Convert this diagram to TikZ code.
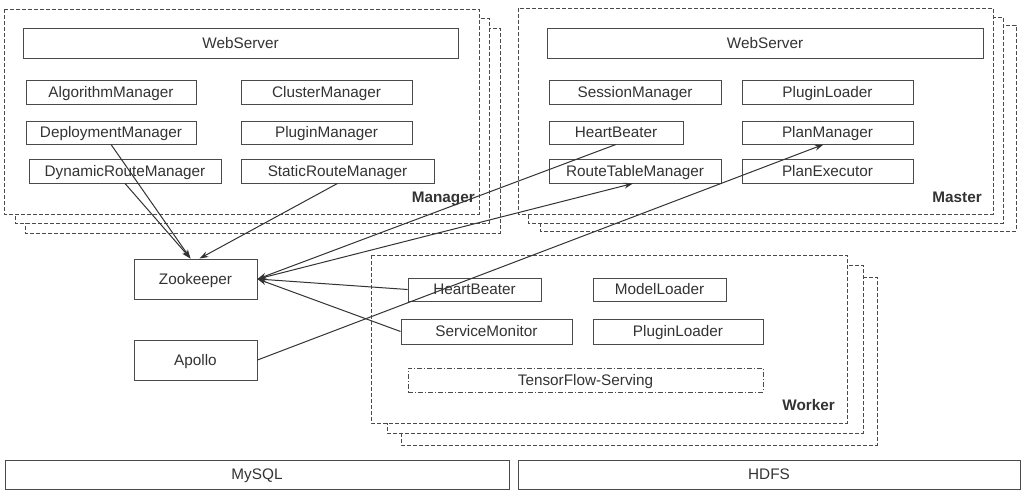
\documentclass[tikz,border=0pt]{standalone}
\usepackage{fontspec}
\setmainfont{Liberation Sans}
\usetikzlibrary{arrows.meta}
\definecolor{ln}{HTML}{333333}
\definecolor{bx}{HTML}{4A4A4A}
\tikzset{
  comp/.style={draw=bx, line width=0.9pt, fill=white, text=ln, inner sep=0pt, text height=10.5pt, text depth=0pt, font=\fontsize{15.3}{17}\selectfont},
  frame/.style={draw=bx, line width=0.9pt, fill=white, dash pattern=on 4pt off 2pt},
  tfs/.style={draw=bx, line width=0.9pt, dash pattern=on 5pt off 2pt on 1pt off 2pt, text=ln, text height=10.5pt, text depth=0pt, font=\fontsize{15.3}{17}\selectfont},
  lbl/.style={font=\bfseries\fontsize{15.3}{17}\selectfont, text=ln, anchor=east, inner sep=0pt, text height=11pt, text depth=0pt},
  conn/.style={draw=ln, line width=1pt, -{Stealth[length=9pt,width=6pt]}},
}
\newcommand{\bx}[5]{\node[comp, minimum width=#3-#1, minimum height=#4-#2] (#5) at ({(#1+#3)/2},{(#2+#4)/2})}
\begin{document}
\begin{tikzpicture}[x=1pt,y=-1pt]
\useasboundingbox (0,0) rectangle (1025,496);
% Manager frames
\draw[frame] (25,28) rectangle (500,233);
\draw[frame] (15,18) rectangle (489,223);
\draw[frame] (4,9) rectangle (479,214);
% Master frames
\draw[frame] (540,25) rectangle (1016,231);
\draw[frame] (528,17) rectangle (1003,223);
\draw[frame] (518,8) rectangle (993,214);
% Worker frames
\draw[frame] (401,277) rectangle (877,445);
\draw[frame] (387,265) rectangle (863,433);
\draw[frame] (371,255) rectangle (847,423);

% Manager components
\bx{23}{28}{458}{58}{mws} {WebServer};
\bx{26}{80}{196}{104}{alg} {AlgorithmManager};
\bx{241}{80}{412}{104}{clu} {ClusterManager};
\bx{26}{121}{196}{144}{dep} {DeploymentManager};
\bx{241}{121}{412}{144}{plm} {PluginManager};
\bx{29}{159}{221}{183}{dyn} {DynamicRouteManager};
\bx{241}{159}{434}{183}{sta} {StaticRouteManager};
\node[lbl] (manl) at (475,197) {Manager};

% Master components
\bx{547}{28}{983}{58}{sws} {WebServer};
\bx{549}{80}{721}{104}{ses} {SessionManager};
\bx{742}{80}{913}{104}{spl} {PluginLoader};
\bx{549}{121}{683}{144}{mhb} {HeartBeater};
\bx{742}{121}{913}{144}{pm} {PlanManager};
\bx{549}{159}{721}{183}{rtm} {RouteTableManager};
\bx{742}{159}{913}{183}{pe} {PlanExecutor};
\node[lbl] (masl) at (982,197) {Master};

% Worker components
\bx{408}{278}{541}{301}{whb} {HeartBeater};
\bx{593}{278}{726}{301}{ml} {ModelLoader};
\bx{401}{319}{572}{344}{sm} {ServiceMonitor};
\bx{593}{319}{763}{344}{wpl} {PluginLoader};
\node[tfs, minimum width=355, minimum height=24, inner sep=0pt] (tf) at (585.5,380) {TensorFlow-Serving};
\node[lbl] (work) at (835,405) {Worker};

% Left nodes
\bx{134}{259}{257}{299}{zk} {Zookeeper};
\bx{134}{340}{257}{380}{ap} {Apollo};

% Storage
\bx{5}{460}{509}{489}{mysql} {MySQL};
\bx{518}{460}{1020}{489}{hdfs} {HDFS};

% Connectors
\draw[conn] (dep.south) -- ([xshift=-5]zk.north);
\draw[conn] (dyn.south) -- ([xshift=-5]zk.north);
\draw[conn] (sta.south) -- ([xshift=4]zk.north);
\draw[conn] (mhb.south) -- (zk.east);
\draw[conn] (zk.east) -- ([xshift=-2]rtm.south);
\draw[conn] (ap.east) -- ([xshift=-4]pm.south);
\draw[conn] (whb.west) -- (zk.east);
\draw[conn] (sm.west) -- (zk.east);
\end{tikzpicture}
\end{document}
